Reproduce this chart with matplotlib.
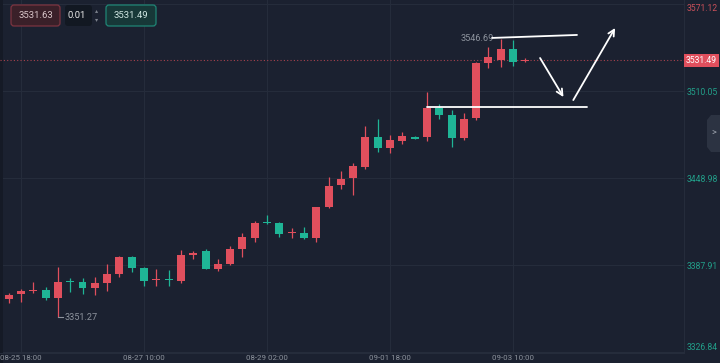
import matplotlib
matplotlib.use('Agg')
import matplotlib.pyplot as plt
import matplotlib.transforms as mtransforms
from matplotlib.patches import FancyBboxPatch, Polygon, Rectangle

# ---------------- data ----------------
opens = [3364.0, 3367.6, 3369.7, 3370.4, 3364.7, 3376.4, 3376.0, 3371.8, 3375.3, 3381.6,
         3393.5, 3385.8, 3377.1, 3377.6, 3376.7, 3394.9, 3397.7, 3385.1, 3388.6, 3399.1,
         3406.8, 3417.6, 3417.4, 3410.2, 3410.4, 3406.8, 3428.6, 3444.1, 3449.0, 3456.7,
         3477.8, 3470.0, 3475.0, 3477.8, 3477.8, 3498.1, 3493.2, 3477.1, 3491.1, 3529.7,
         3531.8, 3539.5, 3530.9]
highs = [3368.3, 3371.1, 3376.0, 3372.5, 3386.5, 3378.8, 3378.8, 3379.5, 3388.6, 3394.2,
         3394.0, 3386.5, 3385.1, 3384.4, 3398.4, 3397.7, 3399.1, 3392.1, 3401.2, 3410.4,
         3418.8, 3423.0, 3418.1, 3413.9, 3414.6, 3428.9, 3449.7, 3453.9, 3459.5, 3485.5,
         3490.4, 3479.2, 3481.3, 3478.2, 3509.4, 3500.9, 3496.7, 3494.6, 3530.4, 3540.9,
         3546.69, 3546.0, 3533.2]
lows = [3361.2, 3361.9, 3368.3, 3363.3, 3351.27, 3369.0, 3367.6, 3366.9, 3369.7, 3379.5,
        3383.0, 3373.2, 3373.2, 3373.2, 3375.3, 3392.1, 3384.8, 3383.7, 3387.9, 3393.5,
        3404.0, 3416.7, 3407.5, 3406.8, 3406.1, 3404.0, 3428.2, 3441.3, 3437.1, 3455.3,
        3467.2, 3466.5, 3472.9, 3476.2, 3475.0, 3490.4, 3470.7, 3475.7, 3489.7, 3526.2,
        3526.9, 3527.6, 3530.4]
closes = [3366.9, 3369.7, 3370.4, 3364.7, 3376.0, 3376.0, 3371.8, 3375.3, 3381.6, 3393.5,
          3385.8, 3376.7, 3377.6, 3377.2, 3394.9, 3396.3, 3385.1, 3388.6, 3399.1, 3407.5,
          3417.4, 3417.2, 3409.7, 3410.6, 3406.8, 3428.6, 3443.4, 3448.3, 3457.4, 3477.8,
          3470.0, 3475.7, 3478.5, 3476.6, 3498.1, 3493.2, 3477.1, 3490.4, 3529.7, 3533.9,
          3539.5, 3530.4, 3531.49]

xtick_idx = [1, 11, 21, 31, 41]
xtick_labels = ['08-25 18:00', '08-27 10:00', '08-29 02:00', '09-01 18:00', '09-03 10:00']
price_ticks = [3326.84, 3387.91, 3448.98, 3510.05, 3571.12]
last_price = 3531.49
ask_price = '3531.63'
bid_price = '3531.49'
step_text = '0.01'
high_mark = 3546.69
high_idx = 40
low_mark = 3351.27
low_idx = 4

# hand-drawn annotation (data coordinates: candle index, price)
line_top = [(39.3, 3547.3), (46.2, 3549.4)]
line_support = [(34.0, 3498.6), (47.0, 3498.6)]
arrow_down = [(43.2, 3533.2), (45.1, 3505.8)]
arrow_up = [(45.9, 3503.7), (49.3, 3554.3)]

# ---------------- style ----------------
BG = '#1b2130'
GRID = '#252c3b'
RED = '#e04f5d'
GREEN = '#1fb596'
TEAL_TXT = '#22a08a'
GRAY_TXT = '#8d939d'
FONT = ['Roboto', 'DejaVu Sans']
plt.rcParams['font.family'] = FONT
FS = 6.2

fig = plt.figure(figsize=(7.2, 3.63), dpi=100, facecolor=BG)
ax = fig.add_axes([0, 10 / 363, 684 / 720, 353 / 363])
ax.set_facecolor(BG)
ax.set_xlim(-0.707, 54.9)
ax.set_ylim(3326.14, 3573.93)

# left darker edge (drawn beneath tick labels)
ax.add_patch(Rectangle((0, -0.03), 2.5 / 684, 1.06, transform=ax.transAxes,
                       fc='#151a26', ec='none', zorder=0.5, clip_on=False))

# grid
for p in price_ticks:
    ax.axhline(p, color=GRID, lw=0.8, zorder=0)
for i in xtick_idx:
    ax.axvline(i, color=GRID, lw=0.8, zorder=0)

# candles
for i, (o, h, l, c) in enumerate(zip(opens, highs, lows, closes)):
    col = RED if c >= o else GREEN
    ax.vlines(i, l, h, color=col, lw=0.9, zorder=2)
    hgt = max(abs(c - o), 0.8)
    ax.bar(i, hgt, bottom=min(o, c), width=0.65, color=col, zorder=3, linewidth=0)

# last price line
ax.axhline(last_price, color='#a8424e', lw=0.8, ls=(0, (1, 2)), zorder=1)

# high / low markers
ax.text(high_idx - 0.6, high_mark, f'{high_mark:.2f}', color=GRAY_TXT, fontsize=6.6,
        ha='right', va='center', zorder=4)
ax.plot([low_idx, low_idx + 0.45], [low_mark, low_mark], color=GRAY_TXT, lw=0.8, zorder=4)
ax.text(low_idx + 0.55, low_mark - 0.5, f'{low_mark:.2f}', color=GRAY_TXT, fontsize=6.6,
        ha='left', va='center', zorder=4)

# white annotation
for seg in (line_top, line_support):
    ax.plot([seg[0][0], seg[1][0]], [seg[0][1], seg[1][1]], color='white', lw=1.3,
            solid_capstyle='round', zorder=5)
for seg in (arrow_down, arrow_up):
    ax.annotate('', xy=seg[1], xytext=seg[0],
                arrowprops=dict(arrowstyle='->', color='white', lw=1.3,
                                mutation_scale=11, shrinkA=0, shrinkB=0), zorder=5)

# axes cosmetics
for s in ax.spines.values():
    s.set_visible(False)
ax.spines['right'].set_visible(True)
ax.spines['right'].set_color(GRID)
ax.spines['bottom'].set_visible(True)
ax.spines['bottom'].set_color(GRID)

ax.set_xticks(xtick_idx)
ax.set_xticklabels(xtick_labels)
ax.tick_params(axis='x', length=0, pad=1.5, labelsize=5.7, labelcolor=GRAY_TXT)
ax.yaxis.tick_right()
ax.set_yticks(price_ticks)
ax.set_yticklabels([f'{p:.2f}' for p in price_ticks])
ax.tick_params(axis='y', length=0, pad=2, labelsize=FS, labelcolor=TEAL_TXT)
ylabs = ax.get_yticklabels()
ylabs[-1].set_color('#c9505a')
ylabs[-1].set_va('top')
ylabs[0].set_va('bottom')

# last price tag on the axis
trans = mtransforms.blended_transform_factory(ax.transAxes, ax.transData)
ax.text(1.003, last_price, f'{last_price:.2f}', transform=trans, color='white', fontsize=FS,
        ha='left', va='center', zorder=6, clip_on=False,
        bbox=dict(boxstyle='square,pad=0.2', fc=RED, ec='none'))

# ---------------- UI overlay (pixel coords) ----------------
ov = fig.add_axes([0, 0, 1, 1])
ov.set_xlim(0, 720)
ov.set_ylim(363, 0)
ov.axis('off')
ov.patch.set_alpha(0)

def box(x, y, w, h, fc, ec):
    ov.add_patch(FancyBboxPatch((x, y), w, h, boxstyle='round,pad=0,rounding_size=3',
                                fc=fc, ec=ec, lw=0.9))

box(11, 5, 49, 21, '#3a2029', '#7c3440')
ov.text(35.5, 15.5, ask_price, color='#d9c6ca', fontsize=6.8, ha='center', va='center')
box(65, 5, 27, 21, '#121822', 'none')
ov.text(77, 15.5, step_text, color='#e8e8e8', fontsize=6.8, ha='center', va='center')
ov.text(97, 10.5, '▴', color='#7d838d', fontsize=4.5, ha='center', va='center',
        family='DejaVu Sans')
ov.text(97, 20, '▾', color='#7d838d', fontsize=4.5, ha='center', va='center',
        family='DejaVu Sans')
box(106, 5, 50, 21, '#173838', '#1f8676')
ov.text(131, 15.5, bid_price, color='#cfe6e2', fontsize=6.8, ha='center', va='center')

# right collapse tab
ov.add_patch(Polygon([(720, 115), (711, 115), (707, 120), (707, 147), (711, 152), (720, 152)],
                     closed=True, fc='#2c3342', ec='none'))
ov.text(713.5, 133.5, '>', color='#a3a9b3', fontsize=6.5, ha='center', va='center')

fig.savefig('out.png', dpi=100, facecolor=BG)
